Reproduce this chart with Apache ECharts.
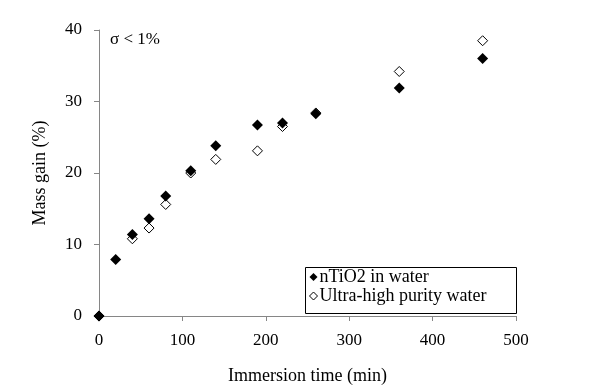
<!DOCTYPE html>
<html><head><meta charset="utf-8">
<script src="https://cdn.jsdelivr.net/npm/echarts@6/dist/echarts.min.js"></script>
<style>html,body{margin:0;padding:0;background:#fff}#c{width:614px;height:390px}</style>
</head><body><div id="c"></div>
<script>
const timeA = [0, 20, 40, 60, 80, 110, 140, 190, 220, 260, 360, 460];
const massA = [0, 7.9, 11.4, 13.6, 16.8, 20.3, 23.8, 26.7, 27.0, 28.3, 31.9, 36.0];
const timeB = [0, 40, 60, 80, 110, 140, 190, 220, 260, 360, 460];
const massB = [0, 10.8, 12.3, 15.6, 20.0, 21.9, 23.1, 26.5, 28.4, 34.2, 38.5];
const nameA = 'nTiO2 in water';
const nameB = 'Ultra-high purity water';
const xTitle = 'Immersion time (min)';
const yTitle = 'Mass gain (%)';
const note = 'σ < 1%';

const font = 'Liberation Serif';
const chart = echarts.init(document.getElementById('c'));
const pair = (xs, ys) => xs.map((x, i) => [x, ys[i]]);
chart.setOption({
  animation: false,
  grid: {left: 99, right: 98, top: 30, bottom: 73},
  xAxis: {
    type: 'value', min: 0, max: 500, interval: 100,
    name: xTitle, nameLocation: 'middle', nameGap: 51,
    nameTextStyle: {fontFamily: font, fontSize: 18, color: '#000'},
    axisLine: {show: true, lineStyle: {color: '#868686', width: 1}},
    axisTick: {show: true, inside: false, length: 5, lineStyle: {color: '#868686'}},
    axisLabel: {fontFamily: font, fontSize: 17, color: '#000', margin: 16},
    splitLine: {show: false}
  },
  yAxis: {
    type: 'value', min: 0, max: 40, interval: 10,
    name: yTitle, nameLocation: 'middle', nameGap: 50,
    nameTextStyle: {fontFamily: font, fontSize: 18, color: '#000'},
    axisLine: {show: true, lineStyle: {color: '#868686', width: 1}},
    axisTick: {show: true, inside: false, length: 5, lineStyle: {color: '#868686'}},
    axisLabel: {fontFamily: font, fontSize: 17, color: '#000', margin: 17},
    splitLine: {show: false}
  },
  legend: {
    orient: 'vertical', left: 306, top: 266,
    padding: [2, 4, 2, 3], itemGap: 1, itemWidth: 8, itemHeight: 8,
    textStyle: {fontFamily: font, fontSize: 18, color: '#000', padding: [0, 0, 0, -3]},
    data: [
      {name: nameA, icon: 'diamond', itemStyle: {color: '#000'}},
      {name: nameB, icon: 'diamond', itemStyle: {color: '#fff', borderColor: '#000', borderWidth: 1}}
    ]
  },
  graphic: [
    {type: 'rect', left: 303, top: 265, shape: {width: 211, height: 46},
     style: {fill: 'none', stroke: '#000', lineWidth: 1}, z: 10},
    {type: 'text', left: 110, top: 31,
     style: {text: note, font: '17px "Liberation Serif"', fill: '#000'}}
  ],
  series: [
    {
      name: nameB, type: 'scatter', symbol: 'diamond', symbolSize: 10,
      itemStyle: {color: '#fff', borderColor: '#000', borderWidth: 1, opacity: 1},
      data: pair(timeB, massB), z: 2
    },
    {
      name: nameA, type: 'scatter', symbol: 'diamond', symbolSize: 11,
      itemStyle: {color: '#000', opacity: 1},
      data: pair(timeA, massA), z: 3
    }
  ]
});
</script></body></html>
